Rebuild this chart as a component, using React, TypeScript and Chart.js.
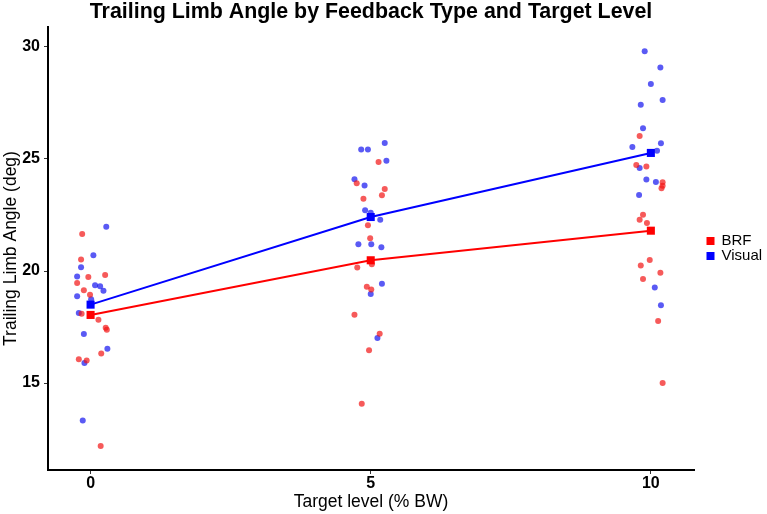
import React, { useEffect, useRef } from "react";
import { Chart, registerables } from "chart.js";

Chart.register(...registerables);

const FONT = "'Liberation Sans', Arial, Helvetica, sans-serif";

const titleText = "Trailing Limb Angle by Feedback Type and Target Level";
const xAxisTitle = "Target level (% BW)";
const yAxisTitle = "Trailing Limb Angle (deg)";

const seriesNames = ["BRF", "Visual"];
const seriesColors = ["#FF0000", "#0000FF"];
const pointColors = ["rgba(242,20,20,0.7)", "rgba(20,20,240,0.7)"];

const targetLevels = [0, 5, 10];
const xTicks = [0, 5, 10];
const yTicks = [15, 20, 25, 30];

const brfMeans = [18.04, 20.48, 21.8];
const visualMeans = [18.5, 22.41, 25.27];

const brfJitterX = [
  -0.15, -0.17, 0.26, -0.04, -0.24, -0.12, -0.01, -0.16, 0.14, 0.27, 0.29, 0.19, -0.21, -0.07, 0.18,
  5.14, 4.75, 5.25, 5.2, 4.87, 4.95, 4.99, 5.02, 4.76, 4.93, 5.01, 4.71, 5.16, 4.97, 4.84,
  9.8, 9.74, 9.92, 10.21, 10.21, 10.19, 9.86, 9.8, 9.93, 9.98, 9.82, 10.17, 9.86, 10.13, 10.21,
];
const brfJitterY = [
  21.65, 20.51, 19.82, 19.73, 19.46, 19.14, 18.94, 18.09, 17.83, 17.47, 17.38, 16.32, 16.06, 16.01, 12.19,
  24.87, 23.92, 23.66, 23.38, 23.23, 22.04, 21.46, 20.3, 20.16, 19.3, 19.18, 18.05, 17.2, 16.46, 14.08,
  26.03, 24.73, 24.67, 23.96, 23.81, 23.69, 22.51, 22.29, 22.14, 20.49, 20.25, 19.92, 19.64, 17.77, 15.0,
];
const visualJitterX = [
  0.28, 0.05, -0.17, -0.24, 0.08, 0.17, 0.23, -0.24, 0.01, -0.21, -0.12, 0.3, -0.11, -0.14,
  5.25, 4.83, 4.95, 5.28, 4.71, 4.89, 4.9, 5.0, 5.17, 4.78, 5.01, 5.19, 5.2, 5.0, 5.12,
  9.89, 10.17, 10.0, 10.21, 9.82, 9.86, 10.18, 9.67, 10.11, 9.8, 9.92, 10.09, 9.79, 10.07, 10.18,
];
const visualJitterY = [
  21.98, 20.7, 20.17, 19.75, 19.36, 19.32, 19.12, 18.87, 18.74, 18.13, 17.19, 16.53, 15.89, 13.33,
  25.71, 25.42, 25.42, 24.92, 24.09, 23.82, 22.71, 22.6, 22.29, 21.19, 21.19, 21.06, 19.43, 18.97, 17.01,
  29.81, 29.08, 28.35, 27.63, 27.42, 26.37, 25.7, 25.54, 25.37, 24.6, 24.08, 23.97, 23.39, 19.27, 18.47,
];

const toPoints = (xs: number[], ys: number[]) => xs.map((x, i) => ({ x, y: ys[i] }));

const sideLegend = {
  id: "sideLegend",
  afterDraw(chart: any) {
    const { ctx, chartArea } = chart;
    const x0 = chartArea.right + 16.5;
    const cy = (chartArea.top + chartArea.bottom) / 2;
    const rowH = 15;
    ctx.save();
    ctx.font = `15px ${FONT}`;
    ctx.textBaseline = "middle";
    ctx.textAlign = "left";
    seriesNames.forEach((name, i) => {
      const y = cy - rowH / 2 + i * rowH;
      ctx.fillStyle = seriesColors[i];
      ctx.fillRect(x0 - 4, y - 4, 8, 8);
      ctx.fillStyle = "#000";
      ctx.fillText(name, x0 + 11, y);
    });
    ctx.restore();
  },
};

export default function App() {
  const canvasRef = useRef<HTMLCanvasElement | null>(null);

  useEffect(() => {
    if (!canvasRef.current) return;
    const meanSets = [brfMeans, visualMeans];
    const jitterSets = [
      toPoints(brfJitterX, brfJitterY),
      toPoints(visualJitterX, visualJitterY),
    ];
    const datasets: any[] = [];
    seriesNames.forEach((name, i) => {
      datasets.push({
        label: name,
        data: targetLevels.map((x, j) => ({ x, y: meanSets[i][j] })),
        showLine: true,
        borderColor: seriesColors[i],
        borderWidth: 2,
        backgroundColor: seriesColors[i],
        pointStyle: "rect",
        pointRadius: 5.7,
        pointBorderWidth: 0,
        pointBackgroundColor: seriesColors[i],
        order: 0,
      });
    });
    seriesNames.forEach((name, i) => {
      datasets.push({
        label: name + " points",
        data: jitterSets[i],
        showLine: false,
        pointRadius: 3,
        pointBorderWidth: 0,
        pointBackgroundColor: pointColors[i],
        backgroundColor: pointColors[i],
        order: 1,
      });
    });

    const chart = new Chart(canvasRef.current, {
      type: "scatter",
      data: { datasets },
      plugins: [sideLegend],
      options: {
        animation: false,
        responsive: true,
        maintainAspectRatio: false,
        devicePixelRatio: 1,
        layout: { padding: { top: 0, right: 73, bottom: 0, left: 0 } },
        plugins: {
          legend: { display: false },
          tooltip: { enabled: false },
          title: {
            display: true,
            text: titleText,
            fullSize: false,
            color: "#000",
            font: { family: FONT, size: 21.4, weight: "bold", lineHeight: 1 },
            padding: { top: 1.5, bottom: 4.1 },
          },
        },
        scales: {
          x: {
            type: "linear",
            min: -0.76,
            max: 10.77,
            afterBuildTicks: (s: any) => {
              s.ticks = xTicks.map((v) => ({ value: v }));
            },
            afterFit: (s: any) => {
              s.height = 44;
            },
            grid: { drawOnChartArea: false, drawTicks: true, tickLength: 4, color: "#333", lineWidth: 1 },
            border: { display: true, color: "#000", width: 2 },
            ticks: {
              color: "#000",
              padding: 1.5,
              font: { family: FONT, size: 16, weight: "bold", lineHeight: 1 },
            },
            title: {
              display: true,
              text: xAxisTitle,
              color: "#000",
              font: { family: FONT, size: 17.5 },
              padding: { top: 0, bottom: 1 },
            },
          },
          y: {
            type: "linear",
            min: 11.12,
            max: 30.89,
            afterBuildTicks: (s: any) => {
              s.ticks = yTicks.map((v) => ({ value: v }));
            },
            afterFit: (s: any) => {
              s.width = 48;
            },
            grid: { drawOnChartArea: false, drawTicks: true, tickLength: 4, color: "#333", lineWidth: 1 },
            border: { display: true, color: "#000", width: 2 },
            ticks: {
              color: "#000",
              padding: 4,
              font: { family: FONT, size: 16, weight: "bold" },
            },
            title: {
              display: true,
              text: yAxisTitle,
              color: "#000",
              font: { family: FONT, size: 17.5 },
              padding: { top: 0.5, bottom: 0 },
            },
          },
        },
      },
    } as any);
    return () => chart.destroy();
  }, []);

  return (
    <div style={{ position: "absolute", left: 0, top: 0, width: 767, height: 514 }}>
      <canvas ref={canvasRef} />
    </div>
  );
}
